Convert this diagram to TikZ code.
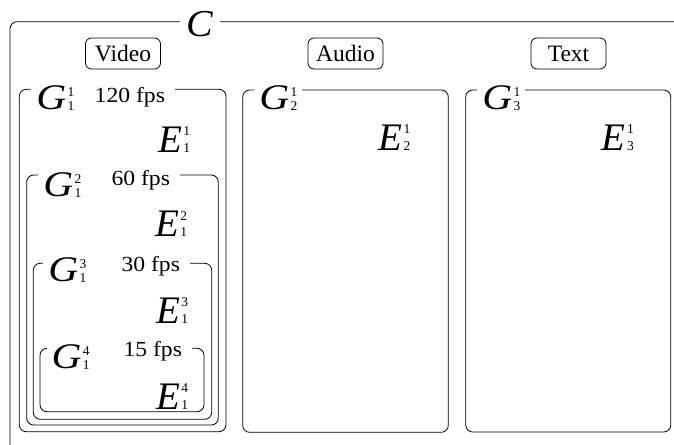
\documentclass[tikz,border=0pt]{standalone}
\usepackage{graphicx}
\usepackage{fontspec}
\setmainfont{Liberation Serif}
\newcommand{\dg}{\fontsize{13.5}{14}\selectfont}
\newcommand{\Gl}[2]{{\fontsize{36}{38}\selectfont\itshape\scalebox{1.15}[1]{G}}\kern1.5pt\rlap{\raisebox{13pt}{\dg #1}}\raisebox{-1pt}{\dg #2}}
\newcommand{\El}[2]{{\fontsize{39}{40}\selectfont\itshape E}\kern1.5pt\rlap{\raisebox{16.5pt}{\dg #1}}{\dg #2}}
\begin{document}
\begin{tikzpicture}[x=1pt,y=-1pt,line width=0.8pt,
  frame/.style={draw,rounded corners=7pt,anchor=north west,inner sep=0pt,outer sep=0pt},
  tag/.style={draw,rounded corners=6pt,minimum width=75pt,minimum height=31pt,inner sep=0pt,font=\fontsize{23.5}{25}\selectfont},
  glab/.style={fill=white,inner xsep=5pt,inner ysep=1pt,outer sep=0pt,anchor=base west},
  fpslab/.style={fill=white,inner xsep=10pt,inner ysep=2pt,outer sep=0pt,anchor=base east,font=\fontsize{21.5}{22}\selectfont},
  elab/.style={inner sep=0pt,outer sep=0pt,anchor=base west}]
\useasboundingbox (0,0) rectangle (674,444);
\clip (0,0) rectangle (674,444);
% outer frame C
\node[frame,minimum width=680pt,minimum height=430pt] (c) at (10,21.7) {};
\node[fill=white,inner xsep=7pt,inner ysep=1pt] (clab) at (200,24) {\fontsize{38}{40}\selectfont\itshape\scalebox{1.05}[1]{C}};
% modality tags
\node[tag] (video) at (123,53.5) {Video};
\node[tag] (audio) at (345.5,53.5) {Audio};
\node[tag] (text) at (568.5,53.5) {Text};
% group boxes
\node[frame,minimum width=206.7pt,minimum height=342.4pt] (g11) at (19.3,89.3) {};
\node[frame,minimum width=191.6pt,minimum height=250pt] (g12) at (26.7,175) {};
\node[frame,minimum width=178.4pt,minimum height=156pt] (g13) at (33.3,263.3) {};
\node[frame,minimum width=164pt,minimum height=63.4pt] (g14) at (40,348.3) {};
\node[frame,minimum width=205.6pt,minimum height=342.3pt] (g21) at (242.7,90) {};
\node[frame,minimum width=205pt,minimum height=342pt] (g31) at (465.7,90) {};
% fps labels
\node[fpslab] (f1) at (175,102) {\scalebox{1.1}[1]{120 fps}};
\node[fpslab] (f2) at (180,185) {\scalebox{1.1}[1]{60 fps}};
\node[fpslab] (f3) at (190,271.7) {\scalebox{1.1}[1]{30 fps}};
\node[fpslab] (f4) at (192,356) {\scalebox{1.1}[1]{15 fps}};
% G labels
\node[glab] (lg11) at (31.3,109) {\Gl{1}{1}};
\node[glab] (lg12) at (38.3,196) {\Gl{2}{1}};
\node[glab] (lg13) at (43.3,281.5) {\Gl{3}{1}};
\node[glab] (lg14) at (46.6,368) {\Gl{4}{1}};
\node[glab] (lg21) at (254.3,109.5) {\Gl{1}{2}};
\node[glab] (lg31) at (477.3,109.5) {\Gl{1}{3}};
% white gaps between G labels and fps labels
\fill[white] (lg11.east |- f1.north) rectangle (f1.south west);
\fill[white] (lg12.east |- f2.north) rectangle (f2.south west);
\fill[white] (lg13.east |- f3.north) rectangle (f3.south west);
\fill[white] (lg14.east |- f4.north) rectangle (f4.south west);
% E labels
\node[elab] (e11) at (158,152) {\El{1}{1}};
\node[elab] (e12) at (155,236.7) {\El{2}{1}};
\node[elab] (e13) at (156,323.3) {\El{3}{1}};
\node[elab] (e14) at (156,409.3) {\El{4}{1}};
\node[elab] (e21) at (378.3,150) {\El{1}{2}};
\node[elab] (e31) at (601.7,150) {\El{1}{3}};
\end{tikzpicture}
\end{document}
